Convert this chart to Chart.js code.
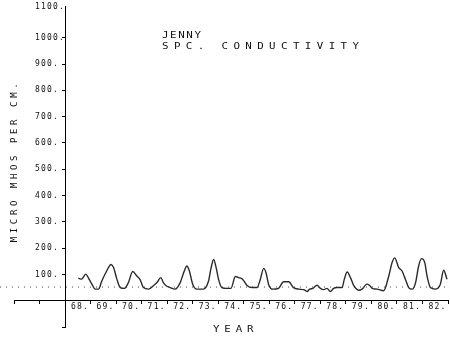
<!DOCTYPE html>
<html>
<head>
<meta charset="utf-8">
<script src="https://cdn.jsdelivr.net/npm/chart.js@4.4.1/dist/chart.umd.min.js"></script>
<style>
  html, body { margin: 0; padding: 0; background: #fff; }
  #wrap { width: 450px; height: 339px; }
</style>
</head>
<body>
<div id="wrap"><canvas id="chart"></canvas></div>
<script>
// sample dates (decimal year) and specific conductivity, micro mhos per cm
const years = [
  1968.52, 1968.65, 1968.81, 1968.94, 1969.05, 1969.18, 1969.31, 1969.44, 1969.63, 1969.80,
  1969.90, 1970.03, 1970.16, 1970.33, 1970.48, 1970.65, 1970.81, 1970.94, 1971.07, 1971.27,
  1971.46, 1971.60, 1971.75, 1971.85, 1971.96, 1972.12, 1972.31, 1972.51, 1972.67, 1972.77,
  1972.87, 1973.00, 1973.16, 1973.42, 1973.62, 1973.71, 1973.82, 1973.92, 1974.01, 1974.14,
  1974.34, 1974.50, 1974.67, 1974.80, 1974.95, 1975.12, 1975.32, 1975.52, 1975.65, 1975.78,
  1975.87, 1975.97, 1976.13, 1976.36, 1976.56, 1976.76, 1976.95, 1977.15, 1977.35, 1977.48,
  1977.58, 1977.71, 1977.87, 1978.00, 1978.13, 1978.26, 1978.39, 1978.52, 1978.65, 1978.85,
  1978.94, 1979.05, 1979.18, 1979.31, 1979.50, 1979.63, 1979.82, 1979.92, 1980.03, 1980.22,
  1980.48, 1980.68, 1980.81, 1980.91, 1981.07, 1981.20, 1981.33, 1981.46, 1981.60, 1981.73,
  1981.85, 1981.96, 1982.09, 1982.18, 1982.31, 1982.50, 1982.70, 1982.83, 1982.96
];
const conductivity = [
  86, 82, 101, 82, 63, 44, 44, 75, 113, 138,
  126, 82, 50, 47, 69, 111, 94, 80, 50, 44,
  57, 69, 88, 69, 57, 50, 44, 69, 113, 132,
  113, 63, 44, 44, 75, 120, 157, 125, 82, 50,
  47, 47, 92, 88, 82, 59, 50, 50, 82, 123,
  107, 63, 44, 47, 72, 72, 50, 44, 42, 35,
  44, 47, 59, 47, 42, 47, 35, 47, 50, 50,
  82, 109, 88, 57, 40, 44, 63, 59, 47, 44,
  38, 94, 145, 163, 126, 113, 82, 50, 44, 69,
  132, 160, 145, 94, 50, 44, 63, 116, 82
];
// dotted reference level
const refYears = [1965.45, 1983.1];
const refLevel = [52, 52];

const yearLabels = ['68.', '69.', '70.', '71.', '72.', '73.', '74.', '75.', '76.', '77.', '78.', '79.', '80.', '81.', '82.'];
const valueLabels = ['100.', '200.', '300.', '400.', '500.', '600.', '700.', '800.', '900.', '1000.', '1100.'];
const titleLines = ['JENNY', 'SPC. CONDUCTIVITY'];
const xTitle = 'YEAR';
const yTitle = 'MICRO MHOS PER CM.';

const monoFont = '"DejaVu Sans Mono", "Liberation Mono", monospace';

// stretched plotter-style lettering
function wideText(c, text, x, y, spacing) {
  c.save();
  c.translate(x, y);
  c.scale(1.35, 1);
  c.letterSpacing = spacing + 'px';
  c.fillText(text, 0, 0);
  c.restore();
}

const lettering = {
  id: 'lettering',
  beforeDraw(chart) {
    chart.ctx.letterSpacing = '1.2px';
  },
  afterDraw(chart) {
    const c = chart.ctx;
    c.save();
    c.fillStyle = '#111';
    c.textBaseline = 'alphabetic';
    c.textAlign = 'left';
    c.font = '8px ' + monoFont;
    wideText(c, titleLines[0], 162, 38, 1.2);
    wideText(c, titleLines[1], 162, 49, 4);
    wideText(c, xTitle, 213, 332, 3.6);

    c.translate(15, 161);
    c.rotate(-Math.PI / 2);
    c.font = '9px ' + monoFont;
    c.letterSpacing = '3.6px';
    c.textAlign = 'center';
    c.textBaseline = 'middle';
    c.fillText(yTitle, 0, 0);
    c.restore();
  }
};

new Chart(document.getElementById('chart'), {
  type: 'line',
  data: {
    datasets: [{
      data: years.map((x, i) => ({ x, y: conductivity[i] })),
      borderColor: '#2a2a2a',
      borderWidth: 1.4,
      pointRadius: 0,
      cubicInterpolationMode: 'monotone'
    }, {
      data: refYears.map((x, i) => ({ x, y: refLevel[i] })),
      borderColor: '#444',
      borderWidth: 1,
      borderDash: [1, 5],
      pointRadius: 0,
      clip: false
    }]
  },
  options: {
    responsive: true,
    maintainAspectRatio: false,
    animation: false,
    layout: { autoPadding: false, padding: { left: 14, right: 2, top: 4, bottom: 12 } },
    plugins: { legend: { display: false }, tooltip: { enabled: false } },
    scales: {
      x: {
        type: 'linear',
        min: 1966,
        max: 1983,
        position: { y: 0 },
        grid: { drawOnChartArea: false, tickLength: 3, color: '#000' },
        border: { color: '#000', width: 1 },
        ticks: {
          stepSize: 1,
          autoSkip: false,
          maxRotation: 0,
          labelOffset: 15,
          padding: -2,
          color: '#111',
          font: { family: monoFont, size: 8 },
          callback: v => yearLabels[Math.round(v) - 1968] || ''
        }
      },
      y: {
        type: 'linear',
        min: -100,
        max: 1118,
        position: { x: 1968 },
        grid: {
          drawOnChartArea: false,
          tickLength: 3,
          color: ctx => (ctx.tick && Math.abs(ctx.tick.value % 100) < 1e-6) ? '#000' : 'rgba(0,0,0,0)'
        },
        border: { color: '#000', width: 1 },
        ticks: {
          stepSize: 100,
          autoSkip: false,
          padding: 2,
          color: '#111',
          font: { family: monoFont, size: 8 },
          callback: v => {
            const s = valueLabels[Math.round(v / 100) - 1];
            return s ? s.padEnd(5, ' ') : '';
          }
        }
      }
    }
  },
  plugins: [lettering]
});
</script>
</body>
</html>
